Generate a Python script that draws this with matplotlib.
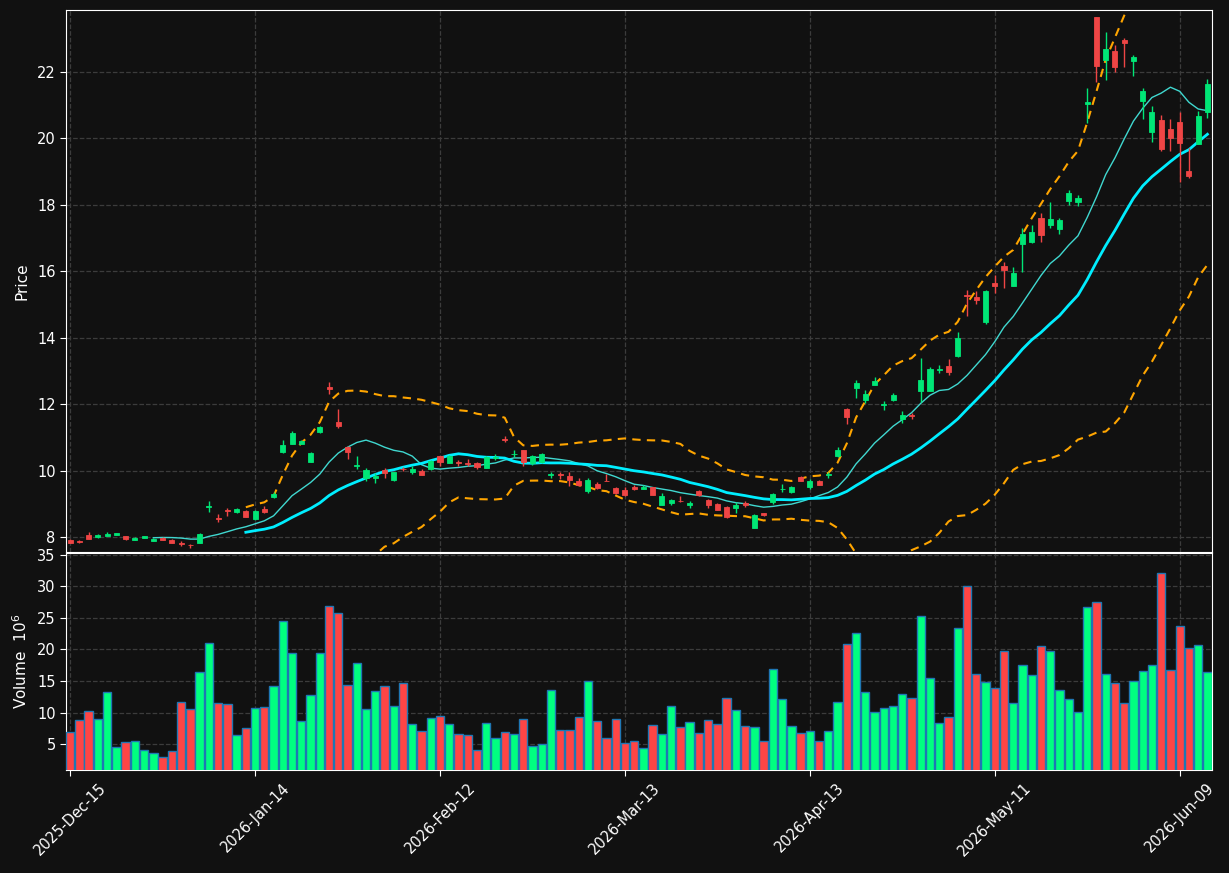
import matplotlib
matplotlib.use("Agg")
import matplotlib.pyplot as plt
import numpy as np
import pandas as pd

# trading calendar
START = "2025-12-15"
HOLIDAYS = ["2025-12-25", "2026-01-01", "2026-01-19", "2026-02-16", "2026-04-03", "2026-05-25"]

opens = [
    7.93, 7.89, 8.07, 8.01, 8.04, 8.06, 8.04, 7.93, 7.97, 7.90,
    7.99, 7.93, 7.83, 7.78, 7.82, 8.92, 8.57, 8.82, 8.75, 8.80,
    8.56, 8.86, 9.22, 10.57, 10.82, 10.82, 10.28, 11.17, 12.53, 11.47,
    10.72, 10.15, 9.78, 9.80, 10.03, 9.73, 10.07, 9.98, 10.00, 10.07,
    10.44, 10.25, 10.26, 10.24, 10.24, 10.10, 10.40, 10.96, 10.50, 10.63,
    10.25, 10.27, 9.88, 9.90, 9.85, 9.70, 9.38, 9.61, 9.71, 9.49,
    9.43, 9.50, 9.46, 9.50, 8.98, 9.04, 9.10, 8.96, 9.40, 9.13,
    9.01, 8.92, 8.89, 9.03, 8.27, 8.72, 9.07, 9.44, 9.35, 9.82,
    9.50, 9.71, 9.89, 10.46, 11.86, 12.48, 12.14, 12.59, 11.99, 12.14,
    11.55, 11.68, 12.41, 12.41, 13.03, 13.16, 13.46, 15.28, 15.24, 14.49,
    15.66, 16.17, 15.56, 16.83, 16.89, 17.60, 17.40, 17.28, 18.10, 18.07,
    21.02, 23.64, 22.36, 22.63, 22.97, 22.31, 21.11, 20.20, 20.56, 20.29,
    20.50, 19.03, 19.83, 20.78,
]
highs = [
    7.94, 7.93, 8.16, 8.10, 8.16, 8.14, 8.05, 8.02, 8.05, 7.97,
    8.00, 7.94, 7.89, 7.81, 8.13, 9.08, 8.70, 8.87, 8.88, 8.81,
    8.82, 8.95, 9.35, 10.93, 11.19, 10.92, 10.56, 11.34, 12.67, 11.85,
    10.74, 10.44, 10.08, 9.93, 10.09, 9.98, 10.13, 10.15, 10.06, 10.33,
    10.46, 10.47, 10.33, 10.35, 10.27, 10.45, 10.52, 11.05, 10.62, 10.64,
    10.47, 10.53, 9.98, 9.97, 9.97, 9.80, 9.78, 9.66, 9.90, 9.51,
    9.50, 9.56, 9.58, 9.52, 9.33, 9.14, 9.23, 9.08, 9.42, 9.14,
    9.04, 8.94, 9.05, 9.09, 8.70, 8.74, 9.32, 9.60, 9.54, 9.86,
    9.75, 9.72, 9.98, 10.73, 11.88, 12.73, 12.42, 12.82, 12.10, 12.33,
    11.79, 11.75, 13.39, 13.12, 13.18, 13.36, 14.19, 15.44, 15.42, 15.43,
    15.89, 16.29, 16.13, 17.30, 17.40, 17.75, 18.08, 17.60, 18.44, 18.30,
    21.51, 23.65, 23.19, 22.81, 23.01, 22.51, 21.51, 20.96, 20.71, 20.59,
    20.80, 19.70, 20.83, 21.79,
]
lows = [
    7.82, 7.83, 7.95, 7.99, 8.04, 8.06, 7.93, 7.92, 7.97, 7.89,
    7.91, 7.83, 7.74, 7.68, 7.82, 8.76, 8.45, 8.63, 8.74, 8.61,
    8.52, 8.74, 9.18, 10.55, 10.80, 10.81, 10.26, 11.13, 12.31, 11.29,
    10.37, 10.05, 9.70, 9.63, 9.80, 9.70, 10.00, 9.92, 9.88, 10.03,
    10.16, 10.24, 10.16, 10.16, 10.05, 10.08, 10.33, 10.88, 10.42, 10.16,
    10.18, 10.25, 9.80, 9.77, 9.54, 9.54, 9.34, 9.45, 9.68, 9.30,
    9.24, 9.43, 9.44, 9.27, 8.96, 8.96, 9.05, 8.87, 9.25, 8.87,
    8.82, 8.58, 8.73, 8.92, 8.27, 8.64, 8.99, 9.35, 9.34, 9.70,
    9.45, 9.56, 9.78, 10.43, 11.41, 12.19, 12.04, 12.57, 11.83, 12.09,
    11.45, 11.55, 12.08, 12.40, 12.94, 12.87, 13.41, 14.67, 15.01, 14.42,
    15.36, 15.49, 15.55, 15.99, 16.86, 16.88, 17.30, 17.13, 18.00, 17.95,
    20.46, 21.69, 21.76, 21.99, 22.14, 21.87, 20.58, 19.90, 19.63, 19.63,
    18.68, 18.80, 19.83, 20.61,
]
closes = [
    7.83, 7.87, 7.96, 8.07, 8.10, 8.13, 7.94, 7.99, 8.03, 7.96,
    7.92, 7.84, 7.81, 7.76, 8.10, 8.94, 8.54, 8.80, 8.86, 8.62,
    8.80, 8.75, 9.31, 10.78, 11.14, 10.90, 10.54, 11.32, 12.46, 11.35,
    10.56, 10.17, 10.03, 9.86, 9.93, 9.96, 10.05, 10.06, 9.89, 10.30,
    10.28, 10.45, 10.24, 10.22, 10.11, 10.41, 10.42, 10.94, 10.52, 10.28,
    10.44, 10.51, 9.90, 9.88, 9.72, 9.57, 9.72, 9.48, 9.69, 9.32,
    9.26, 9.44, 9.52, 9.28, 9.25, 9.12, 9.08, 9.04, 9.27, 8.98,
    8.83, 8.60, 8.98, 8.96, 8.68, 8.66, 9.31, 9.46, 9.52, 9.71,
    9.70, 9.58, 9.91, 10.63, 11.63, 12.65, 12.32, 12.70, 12.01, 12.29,
    11.68, 11.66, 12.74, 13.07, 13.05, 12.96, 13.99, 15.26, 15.14, 15.41,
    15.56, 16.05, 15.94, 17.13, 17.18, 17.10, 17.58, 17.55, 18.37, 18.22,
    21.10, 22.18, 22.69, 22.15, 22.88, 22.46, 21.43, 20.80, 19.68, 20.00,
    19.87, 18.87, 20.68, 21.64,
]
volumes = [  # millions
    6.86, 8.76, 10.19, 8.92, 13.2, 4.48, 5.28, 5.44, 4.01, 3.53,
    2.90, 3.85, 11.62, 10.51, 16.37, 20.97, 11.46, 11.30, 6.39, 7.50,
    10.67, 10.83, 14.15, 24.45, 19.38, 8.60, 12.73, 19.38, 26.83, 25.72,
    14.31, 17.80, 10.51, 13.34, 14.15, 10.98, 14.63, 8.13, 7.02, 9.08,
    9.40, 8.13, 6.55, 6.39, 4.01, 8.29, 5.91, 6.86, 6.55, 8.92,
    4.64, 4.96, 13.50, 7.17, 7.17, 9.24, 14.94, 8.60, 5.91, 8.92,
    5.12, 5.44, 4.33, 7.97, 6.55, 10.98, 7.65, 8.45, 6.70, 8.76,
    8.13, 12.23, 10.33, 7.80, 7.65, 5.44, 16.85, 12.07, 7.80, 6.70,
    7.02, 5.44, 7.02, 11.62, 20.81, 22.55, 13.20, 10.04, 10.67, 10.98,
    12.89, 12.23, 25.25, 15.42, 8.29, 9.24, 23.34, 30.00, 16.05, 14.79,
    13.83, 19.70, 11.46, 17.48, 15.90, 20.49, 19.70, 13.50, 12.07, 10.04,
    26.67, 27.46, 16.05, 14.63, 11.46, 14.94, 16.53, 17.48, 32.06, 16.69,
    23.66, 20.17, 20.65, 16.37,
]

BG = "#111111"
UP, DOWN = "#00e676", "#ef4545"
VUP, VDOWN = "#00ff80", "#ff4545"

cal = pd.offsets.CustomBusinessDay(holidays=HOLIDAYS)
dates = pd.date_range(START, periods=len(closes), freq=cal)
df = pd.DataFrame(
    {"open": opens, "high": highs, "low": lows, "close": closes, "volume": volumes},
    index=dates,
)
ma10 = df["close"].rolling(10).mean()
ma20 = df["close"].rolling(20).mean()
sd20 = df["close"].rolling(20).std()
upper = ma20 + 2 * sd20
lower = ma20 - 2 * sd20

x = np.arange(len(df))
up = df["close"].values >= df["open"].values

fig = plt.figure(figsize=(12.29, 8.73), dpi=100, facecolor=BG)
ax = fig.add_axes([0.0537, 0.3677, 0.9325, 0.6209], facecolor=BG)
axv = fig.add_axes([0.0537, 0.1180, 0.9325, 0.2486], facecolor=BG, sharex=ax)

# candles
ccol = np.where(up, UP, DOWN)
ax.vlines(x, df["low"], df["high"], colors=ccol, linewidth=1.0, zorder=3)
body_lo = np.minimum(df["open"], df["close"])
body_h = np.maximum(np.abs(df["close"] - df["open"]), 0.015)
ax.bar(x, body_h, bottom=body_lo, width=0.55, color=ccol, edgecolor=ccol,
       linewidth=0.6, zorder=4)

ax.plot(x, ma10, color="#40d8d0", linewidth=1.0, zorder=2)
ax.plot(x, ma20, color="#00eeff", linewidth=2.0, zorder=2)
ax.plot(x, upper, color="#ffa500", linewidth=1.5, linestyle=(0, (4, 3)), zorder=2)
ax.plot(x, lower, color="#ffa500", linewidth=1.5, linestyle=(0, (4, 3)), zorder=2)

# volume
vcol = np.where(up, VUP, VDOWN)
axv.bar(x, df["volume"], width=0.9, color=vcol, edgecolor="#1f77b4", linewidth=1.0, zorder=3)

ax.set_xlim(-0.45, 123.5)
ax.set_ylim(7.56, 23.86)
axv.set_ylim(0.89, 35.3)

ticks = list(range(0, len(df), 20))
axv.set_xticks(ticks)
axv.set_xticklabels([dates[t].strftime("%Y-%b-%d") for t in ticks], rotation=45, ha="center")
ax.set_yticks(range(8, 23, 2))
axv.set_yticks(range(5, 36, 5))
plt.setp(ax.get_xticklabels(), visible=False)

for a in (ax, axv):
    a.grid(True, color="#3c3c3c", linestyle="--", linewidth=0.9)
    a.set_axisbelow(True)
    for s in a.spines.values():
        s.set_color("white")
    a.tick_params(colors="white", labelsize=10.5, length=4)
ax.tick_params(axis="x", length=0)

ax.set_ylabel("Price", color="white", fontsize=11)
axv.set_ylabel("Volume  $10^{6}$", color="white", fontsize=11)
ax.yaxis.set_label_coords(-0.032, 0.5)
axv.yaxis.set_label_coords(-0.031, 0.5)

fig.savefig("out.png", dpi=100, facecolor=BG)
